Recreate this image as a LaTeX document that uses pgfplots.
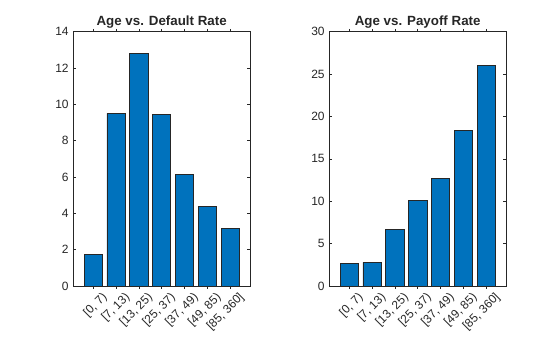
\documentclass[border=0pt]{standalone}
\usepackage{pgfplots}
\pgfplotsset{compat=1.18}
\usepackage{fontspec}
\setmainfont{Liberation Sans}
\definecolor{barblue}{RGB}{0,114,189}
\definecolor{axgray}{RGB}{38,38,38}
\pgfplotsset{
  mstyle/.style={
    scale only axis,
    width=132.5pt, height=190.7pt,
    anchor=south west,
    xmin=0.13, xmax=7.87, ymin=0,
    xtick={1,...,7},
    xticklabels={{[0, 7)},{[7, 13)},{[13, 25)},{[25, 37)},{[37, 49)},{[49, 85)},{[85, 360]}},
    x tick label style={rotate=45, anchor=north east, font=\fontsize{9pt}{10pt}\selectfont, text=axgray, inner sep=0.5pt, xshift=3.5pt, yshift=-5pt},
    y tick label style={font=\fontsize{9pt}{10pt}\selectfont, text=axgray},
    /pgf/number format/assume math mode=true,
    xtick pos=both, ytick pos=both,
    tick align=inside,
    major tick length=2.2pt,
    tick style={axgray, line width=0.4pt},
    axis line style={axgray, line width=0.45pt},
    title style={font=\bfseries\fontsize{10pt}{11pt}\selectfont, text=axgray, at={(0.5,1)}, anchor=south, yshift=-7pt},
    ybar, bar width=0.8, bar shift=0pt,
  },
  mbar/.style={fill=barblue, draw=black!85, line width=0.45pt},
}
\begin{document}
\begin{tikzpicture}
\useasboundingbox (0,0) rectangle (420pt,252.75pt);
\begin{axis}[mstyle, at={(55pt,38.25pt)}, ymax=14, ytick={0,2,...,14}, title={Age vs. Default Rate}]
\addplot[mbar] coordinates {(1,1.75) (2,9.51) (3,12.81) (4,9.45) (5,6.15) (6,4.37) (7,3.16)};
\end{axis}
\begin{axis}[mstyle, at={(247pt,38.25pt)}, ymax=30, ytick={0,5,...,30}, title={Age vs. Payoff Rate}]
\addplot[mbar] coordinates {(1,2.67) (2,2.79) (3,6.69) (4,10.1) (5,12.7) (6,18.36) (7,25.99)};
\end{axis}
\end{tikzpicture}
\end{document}
